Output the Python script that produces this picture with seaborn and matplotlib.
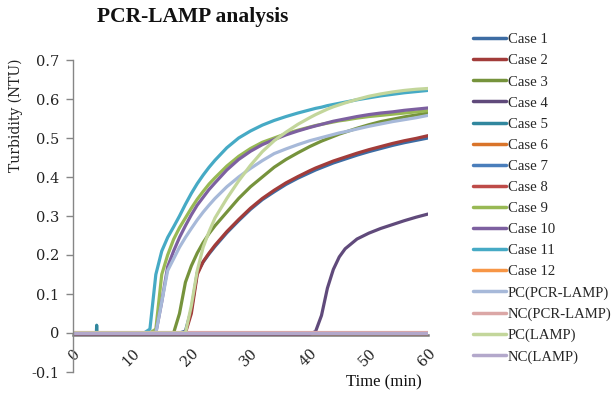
import matplotlib
matplotlib.use("Agg")
import matplotlib.pyplot as plt
import seaborn as sns
import pandas as pd

# ---------------- data ----------------
series_names = ["Case 1", "Case 2", "Case 3", "Case 4", "Case 5", "Case 6",
                "Case 7", "Case 8", "Case 9", "Case 10", "Case 11", "Case 12",
                "PC(PCR-LAMP)", "NC(PCR-LAMP)", "PC(LAMP)", "NC(LAMP)"]
series_colors = ["#3D6CA3", "#A23C3A", "#76933C", "#604A7B", "#31879E", "#D9742A",
                 "#4A7EBB", "#BE4B48", "#98B954", "#7D60A0", "#46AAC5", "#F79646",
                 "#A7B9D9", "#DBA7A6", "#C3D69B", "#B3A8CB"]

time_min = [0, 2, 4, 6, 8, 10, 12, 13, 14, 15, 16, 17, 18, 19, 20, 21, 22, 23, 24,
            26, 28, 30, 32, 34, 36, 38, 40, 41, 42, 43, 44, 45, 46, 48, 50, 52, 54,
            56, 58, 60]

case1 = [0, 0, 0, 0, 0, 0, 0, 0, 0, 0, 0, 0, 0, 0.005, 0.06, 0.155, 0.182, 0.203, 0.222,
         0.257, 0.288, 0.317, 0.342, 0.362, 0.381, 0.397, 0.411, 0.418, 0.424, 0.430,
         0.436, 0.441, 0.446, 0.456, 0.465, 0.473, 0.481, 0.488, 0.494, 0.500]
case2 = [0, 0, 0, 0, 0, 0, 0, 0, 0, 0, 0, 0, 0, 0.0, 0.05, 0.150, 0.183, 0.205, 0.225,
         0.260, 0.291, 0.320, 0.345, 0.366, 0.385, 0.401, 0.416, 0.423, 0.429, 0.435,
         0.441, 0.446, 0.451, 0.461, 0.470, 0.478, 0.486, 0.493, 0.499, 0.506]
case3 = [0, 0, 0, 0, 0, 0, 0, 0, 0, 0, 0, 0, 0.05, 0.13, 0.172, 0.205, 0.232, 0.255, 0.275,
         0.310, 0.345, 0.375, 0.400, 0.425, 0.445, 0.462, 0.478, 0.485, 0.492, 0.498,
         0.504, 0.510, 0.515, 0.525, 0.534, 0.542, 0.548, 0.554, 0.559, 0.564]
case4 = [-0.003, -0.003, -0.003, -0.003, -0.003, -0.003, -0.003, -0.003, -0.003, -0.003,
         -0.003, -0.003, -0.003, -0.003, -0.003, -0.003, -0.003, -0.003, -0.003, -0.003,
         -0.003, -0.003, -0.003, -0.003, -0.003, -0.003, -0.003, 0.004, 0.045, 0.115,
         0.163, 0.195, 0.216, 0.241, 0.256, 0.268, 0.278, 0.288, 0.297, 0.305]
case9 = [0, 0, 0, 0, 0, 0, 0, 0, 0.01, 0.15, 0.20, 0.24, 0.27, 0.295, 0.320, 0.343, 0.363,
         0.382, 0.398, 0.428, 0.453, 0.473, 0.489, 0.500, 0.511, 0.520, 0.528, 0.532,
         0.535, 0.538, 0.541, 0.544, 0.546, 0.551, 0.555, 0.558, 0.561, 0.564, 0.567, 0.570]
case10 = [0, 0, 0, 0, 0, 0, 0, 0, 0, 0.08, 0.17, 0.21, 0.245, 0.275, 0.303, 0.328, 0.348,
          0.368, 0.385, 0.418, 0.445, 0.466, 0.483, 0.496, 0.508, 0.518, 0.527, 0.531,
          0.535, 0.539, 0.543, 0.546, 0.549, 0.555, 0.560, 0.564, 0.567, 0.571, 0.574, 0.577]
case11 = [0, 0, 0, 0, 0, 0, 0, 0.01, 0.15, 0.21, 0.245, 0.272, 0.300, 0.330, 0.358, 0.383,
          0.405, 0.425, 0.443, 0.475, 0.500, 0.518, 0.533, 0.545, 0.555, 0.564, 0.572,
          0.576, 0.579, 0.583, 0.586, 0.589, 0.592, 0.598, 0.603, 0.608, 0.612, 0.616,
          0.619, 0.622]
pc_pcr_lamp = [0, 0, 0, 0, 0, 0, 0, 0, 0, 0.08, 0.16, 0.19, 0.22, 0.245, 0.268, 0.290,
               0.310, 0.328, 0.345, 0.375, 0.400, 0.422, 0.442, 0.460, 0.472, 0.483, 0.493,
               0.497, 0.501, 0.505, 0.509, 0.513, 0.516, 0.523, 0.530, 0.536, 0.542, 0.547,
               0.552, 0.558]
pc_lamp = [0, 0, 0, 0, 0, 0, 0, 0, 0, 0, 0, 0, 0, 0, 0.07, 0.16, 0.22, 0.26, 0.295, 0.345,
           0.390, 0.430, 0.465, 0.493, 0.515, 0.535, 0.552, 0.560, 0.567, 0.574, 0.580,
           0.585, 0.590, 0.599, 0.607, 0.613, 0.618, 0.622, 0.625, 0.627]

# baseline series (flat) and the short spike of Case 5
time_flat = [0, 60]
case5_time = [0, 3.95, 4.0, 4.05, 60]
case5 = [0, 0, 0.02, 0, 0]
case6 = [0.0, 0.0]
case7 = [0.0, 0.0]
case8 = [0.0, 0.0]
case12 = [0.0, 0.0]
nc_pcr_lamp = [0.002, 0.002]
nc_lamp = [0.0, 0.0]

y_ticks = [-0.1, 0, 0.1, 0.2, 0.3, 0.4, 0.5, 0.6, 0.7]
y_tick_labels = ["-0.1", "0", "0.1", "0.2", "0.3", "0.4", "0.5", "0.6", "0.7"]
x_ticks = [0, 10, 20, 30, 40, 50, 60]

# ---------------- long-form table ----------------
series_data = {
    "Case 1": (time_min, case1), "Case 2": (time_min, case2), "Case 3": (time_min, case3),
    "Case 4": (time_min, case4), "Case 5": (case5_time, case5), "Case 6": (time_flat, case6),
    "Case 7": (time_flat, case7), "Case 8": (time_flat, case8), "Case 9": (time_min, case9),
    "Case 10": (time_min, case10), "Case 11": (time_min, case11), "Case 12": (time_flat, case12),
    "PC(PCR-LAMP)": (time_min, pc_pcr_lamp), "NC(PCR-LAMP)": (time_flat, nc_pcr_lamp),
    "PC(LAMP)": (time_min, pc_lamp), "NC(LAMP)": (time_flat, nc_lamp),
}
rows = []
for name in series_names:
    ts, vs = series_data[name]
    for t, v in zip(ts, vs):
        rows.append({"Time": t, "Turbidity": v, "Series": name})
df = pd.DataFrame(rows)

# ---------------- plot ----------------
sns.set_style("white")
plt.rcParams["font.family"] = ["DejaVu Serif"]

fig = plt.figure(figsize=(6.14, 3.98), dpi=100)
ax = fig.add_axes([73 / 614, 1 - 372 / 398, 355 / 614, 312 / 398])

sns.lineplot(data=df, x="Time", y="Turbidity", hue="Series", hue_order=series_names,
             palette=series_colors, estimator=None, linewidth=2.3, ax=ax, legend=True)
for line in ax.get_lines():
    line.set_solid_joinstyle("round")

ax.set_xlim(0, 60)
ax.set_ylim(-0.1, 0.7)

for s in ["top", "right"]:
    ax.spines[s].set_visible(False)
ax.spines["left"].set_color("#868686")
ax.spines["left"].set_linewidth(1.0)
ax.spines["bottom"].set_color("#7a7a7a")
ax.spines["bottom"].set_linewidth(1.8)
ax.spines["bottom"].set_position(("data", -0.006))
ax.spines["bottom"].set_zorder(0.5)

ax.set_yticks(y_ticks)
ax.set_yticklabels(y_tick_labels, fontsize=10.5, family="DejaVu Serif", color="#222222")
ax.tick_params(axis="y", length=5, width=1, color="#868686", direction="out", pad=5, left=True)

ax.set_xticks(x_ticks)
ax.set_xticklabels([str(v) for v in x_ticks], fontsize=10.5, family="DejaVu Serif",
                   rotation=45, ha="right", va="top", rotation_mode="anchor", color="#222222")
ax.tick_params(axis="x", length=0, pad=8, bottom=True)

ax.set_xlabel("")
ax.set_ylabel("Turbidity (NTU)", fontsize=10, family="DejaVu Serif", color="#222222")
ax.yaxis.set_label_coords(-0.14, 0.824)

fig.text(384 / 614, 1 - 382 / 398, "Time (min)", fontsize=12, family="Liberation Serif",
         ha="center", va="center", color="#111111")
fig.text(193 / 614, 1 - 17 / 398, "PCR-LAMP analysis", fontsize=15.5, family="Liberation Serif",
         fontweight="bold", ha="center", va="center", color="#111111")

handles, labels = ax.get_legend_handles_labels()
ax.get_legend().remove()
leg = fig.legend(handles, labels, loc="upper left", bbox_to_anchor=(473 / 614, 1 - 33 / 398),
                 frameon=False, borderpad=0, borderaxespad=0, handlelength=2.25,
                 handletextpad=0.12, labelspacing=0.53,
                 prop={"family": "Liberation Serif", "size": 10.6})
for line in leg.get_lines():
    line.set_linewidth(2.5)

fig.savefig("out.png", dpi=100)
